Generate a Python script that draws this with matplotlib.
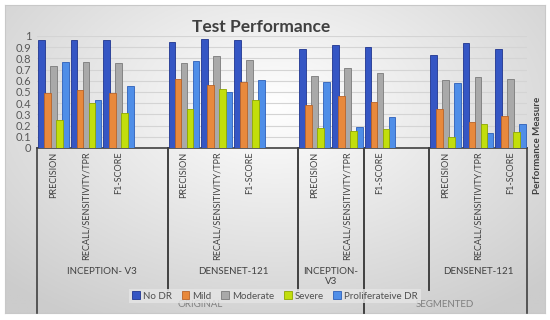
import numpy as np
import matplotlib
matplotlib.use('Agg')
import matplotlib.pyplot as plt

plt.rcParams['font.family'] = ['Lato', 'DejaVu Sans']

# categories (blank slots are the empty rows in the sheet)
metrics = ['PRECISION', 'RECALL/SENSITIVITY/TPR', 'F1-SCORE', '',
           'PRECISION', 'RECALL/SENSITIVITY/TPR', 'F1-SCORE', '',
           'PRECISION', 'RECALL/SENSITIVITY/TPR', 'F1-SCORE', '',
           'PRECISION', 'RECALL/SENSITIVITY/TPR', 'F1-SCORE']
models = [('INCEPTION- V3', 0, 4), ('DENSENET-121', 4, 8), ('INCEPTION-\nV3', 8, 10),
          ('', 10, 12), ('DENSENET-121', 12, 15)]
datasets = [('ORIGINAL', 0, 10), ('SEGMENTED', 10, 15)]

series = ['No DR', 'Mild', 'Moderate', 'Severe', 'Proliferateive DR']
no_dr    = [0.96, 0.96, 0.96, 0.95, 0.97, 0.96, 0.88, 0.92, 0.90, 0.83, 0.94, 0.88]
mild     = [0.49, 0.52, 0.49, 0.62, 0.56, 0.59, 0.38, 0.46, 0.41, 0.35, 0.23, 0.29]
moderate = [0.73, 0.77, 0.76, 0.76, 0.82, 0.79, 0.64, 0.71, 0.67, 0.61, 0.63, 0.62]
severe   = [0.25, 0.40, 0.31, 0.35, 0.53, 0.43, 0.18, 0.15, 0.17, 0.10, 0.21, 0.14]
prolif   = [0.77, 0.43, 0.55, 0.78, 0.50, 0.61, 0.59, 0.19, 0.28, 0.58, 0.13, 0.21]

colors = ['#3556c4', '#e8893c', '#a9a9a9', '#c2de0c', '#4f8ee8']
edges = ['#1f3590', '#b8642a', '#7a7a7a', '#8fa800', '#2d5fb8']

fig = plt.figure(figsize=(5.5, 3.2), dpi=100)

# gradient chart background
bg = fig.add_axes([5/550, 1 - 313/320, 540/550, 308/320], zorder=-5)
gx, gy = np.meshgrid(np.linspace(-1, 1, 300), np.linspace(-1, 1, 200))
r = np.sqrt((gx * 0.9) ** 2 + ((gy + 0.35) * 0.8) ** 2)
shade = 1 - 0.2 * np.clip(r, 0, 1.3) / 1.3
bg.imshow(np.dstack([shade] * 3), aspect='auto', extent=[0, 1, 0, 1])
bg.set_xticks([])
bg.set_yticks([])
for s in bg.spines.values():
    s.set_color('#c8c8c8')

ax = fig.add_axes([37/550, 1 - 148/320, 490/550, 112/320])
ax.set_facecolor('none')

x = np.array([i for i, m in enumerate(metrics) if m])
step, w = 0.185, 0.2
for k, vals in enumerate([no_dr, mild, moderate, severe, prolif]):
    ax.bar(x + (k - 2) * step, vals, w, color=colors[k], edgecolor=edges[k],
           linewidth=0.6, label=series[k], zorder=3 + k % 2)

ax.set_xlim(-0.5, len(metrics) - 0.5)
ax.set_ylim(0, 1.0)
ax.set_yticks(np.arange(0, 1.01, 0.1))
ax.set_yticklabels(['0'] + ['%.1f' % v for v in np.arange(0.1, 0.95, 0.1)] + ['1'])
ax.tick_params(axis='y', length=0, labelsize=8, labelcolor='#595959', pad=4)
ax.tick_params(axis='x', length=0, labelbottom=False)
ax.grid(axis='y', color='#d4d4d4', linewidth=0.8, zorder=0)
for s in ['top', 'right', 'left']:
    ax.spines[s].set_visible(False)
ax.spines['bottom'].set_color('#404040')
ax.spines['bottom'].set_linewidth(1.2)

tr = ax.get_xaxis_transform()
for i, m in enumerate(metrics):
    if m:
        ax.text(i, -0.03, m, rotation=90, ha='center', va='top', fontsize=6.5,
                color='#404040', transform=tr)

for name, a, b in models:
    if name:
        ax.text((a + b - 1) / 2, -1.06, name, ha='center', va='top', fontsize=7,
                color='#404040', transform=tr, linespacing=1.2)
for name, a, b in datasets:
    ax.text((a + b - 1) / 2, -1.40, name, ha='center', va='center', fontsize=7,
            color='#808080', transform=tr)

full = {-0.5, 9.5, 14.5}
for name, a, b in models:
    for xb in (a - 0.5, b - 0.5):
        y0 = -1.47 if xb in full else -1.27
        ax.plot([xb, xb], [0, y0], color='#404040', lw=1.2, transform=tr, clip_on=False)

fig.text(261/550, 1 - 27/320, 'Test Performance', ha='center', va='center',
         fontsize=12.5, fontweight='bold', color='#404040')
fig.text(538/550, 1 - 145/320, 'Performance Measure', rotation=90, ha='center',
         va='center', fontsize=7, fontweight='bold', color='#404040')

leg = fig.legend(loc='center', bbox_to_anchor=(275/550, 1 - 296/320), ncol=5,
                 fontsize=7, handlelength=0.8, handleheight=0.8, handletextpad=0.3,
                 columnspacing=1.0, frameon=True, fancybox=False, borderpad=0.3)
leg.get_frame().set_facecolor('#e4e4e4')
leg.get_frame().set_alpha(0.85)
leg.get_frame().set_linewidth(0)
for t in leg.get_texts():
    t.set_color('#505050')

fig.savefig('out.png', dpi=100)
